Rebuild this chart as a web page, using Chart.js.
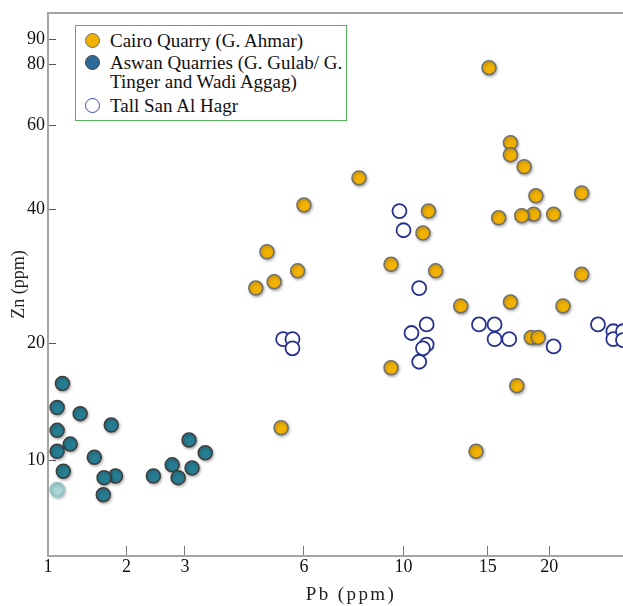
<!DOCTYPE html>
<html lang="en">
<head>
<meta charset="UTF-8">
<title>Pb vs Zn</title>
<script src="https://cdn.jsdelivr.net/npm/chart.js"></script>
<style>
    body {
        margin: 0;
        overflow: hidden;
        background: #fff;
        font-family: "Liberation Serif", serif;
    }
    #wrap {
        position: relative;
        width: 655px;
        height: 606px;
    }
    #legend {
        position: absolute;
        left: 75px;
        top: 25px;
        width: 270px;
        height: 94px;
        border: 1.5px solid #55b15c;
        background: #fff;
        font-size: 19px;
        line-height: 19px;
        color: #111;
    }
    .row {
        position: relative;
        margin: 5px 0 0 0;
        padding-left: 34px;
        white-space: pre-line;
    }
    .row:nth-child(2) {
        margin-top: 3px;
    }
    .mark {
        position: absolute;
        left: 9px;
        top: 2px;
        width: 13px;
        height: 13px;
        border-radius: 50%;
    }
</style>
</head>
<body>
<div id="wrap">
    <canvas id="chart" width="655" height="606"></canvas>
    <div id="legend"></div>
</div>

<script>
// series names (legend)
const seriesNames = [
    "Cairo Quarry (G. Ahmar)",
    "Aswan Quarries (G. Gulab/ G.\nTinger and Wadi Aggag)",
    "Tall San Al Hagr"
];

// Cairo Quarry (G. Ahmar)
const cairoPb = [15.1, 16.7, 16.7, 17.8, 8.0, 18.8, 23.2, 6.0, 11.3, 15.8, 18.6, 17.6, 20.4, 11.0, 4.9,
                 9.4, 5.8, 11.7, 23.2, 5.1, 4.6, 16.7, 13.2, 21.3, 18.4, 19.0, 9.4, 17.2, 5.3, 14.2];
const cairoZn = [78.8, 55.3, 52.2, 49.3, 46.7, 42.8, 43.4, 40.9, 39.7, 38.4, 39.1, 38.8, 39.1, 35.6, 32.4,
                 30.4, 29.4, 29.4, 28.9, 27.8, 26.9, 25.0, 24.5, 24.5, 20.7, 20.7, 17.5, 15.8, 12.3, 10.6];

// Aswan Quarries (last point is the pale one)
const aswanPb = [1.16, 1.10, 1.37, 1.78, 1.10, 1.25, 1.10, 1.55, 1.17, 1.84, 1.68, 1.67, 2.43, 2.76, 2.87,
                 3.08, 3.14, 3.41, 1.10];
const aswanZn = [16.0, 13.9, 13.4, 12.5, 12.1, 11.1, 10.6, 10.2, 9.3, 9.0, 8.9, 7.9, 9.0, 9.7, 8.9,
                 11.4, 9.5, 10.5, 8.2];
const aswanPale = [18];

// Tall San Al Hagr
const hagrPb = [9.8, 10.0, 10.8, 5.36, 5.64, 5.64, 11.2, 10.4, 11.2, 11.0, 10.8, 14.4, 15.5, 15.5, 16.6,
                20.4, 25.0, 26.8, 26.8, 28.0, 28.0];
const hagrZn = [39.7, 36.1, 26.9, 20.5, 20.5, 19.5, 22.2, 21.2, 19.9, 19.5, 18.1, 22.2, 22.2, 20.5, 20.5,
                19.7, 22.2, 21.4, 20.5, 21.4, 20.4];

// axis ticks
const pbTicks = [1, 2, 3, 6, 10, 15, 20];
const znTicks = [10, 20, 40, 60, 80, 90];
const pbRange = [1, 32.2];
const znRange = [4.86, 101.5];

// the axes of the figure are log(v + c) rather than plain log
const tx = v => Math.log10(v + 1.5);
const ty = v => Math.log10(v + 5);

function pts(xs, ys) {
    return xs.map((x, i) => ({ x: tx(x), y: ty(ys[i]) }));
}

const serif = "'Liberation Serif', 'Times New Roman', serif";
const markFill = ['#f2b203', '#267d91', '#ffffff'];
const legendFill = ['#f2b203', '#2f6b98', '#ffffff'];
const markLine = ['#6e6e6e', '#3d3d3d', '#28318f'];

// soft drop shadow under the filled markers
const shadowPlugin = {
    id: 'shadow',
    beforeDatasetDraw(chart, args) {
        if (args.index > 1) return;
        const c = chart.ctx;
        c.save();
        c.shadowColor = 'rgba(0,0,0,0.28)';
        c.shadowBlur = 3;
        c.shadowOffsetX = 1;
        c.shadowOffsetY = 1.5;
    },
    afterDatasetDraw(chart, args) {
        if (args.index > 1) return;
        chart.ctx.restore();
    }
};

// spaced letters for the Pb title
const spacedTitle = {
    id: 'spacedTitle',
    beforeDraw(chart) {
        const s = chart.scales.x;
        if (s._spaced) return;
        const orig = s.drawTitle;
        s.drawTitle = function () {
            this.ctx.letterSpacing = '2.4px';
            orig.apply(this, arguments);
            this.ctx.letterSpacing = '0px';
        };
        s._spaced = true;
    }
};

// keep the plot area fixed, no room reserved for overhanging labels
function noPad(s) {
    s.paddingTop = 0;
    s.paddingBottom = 0;
    s.paddingLeft = 0;
    s.paddingRight = 0;
}

const ctx = document.getElementById('chart').getContext('2d');
const chart = new Chart(ctx, {
    type: 'scatter',
    data: {
        datasets: [
            {
                label: seriesNames[0],
                data: pts(cairoPb, cairoZn),
                backgroundColor: markFill[0],
                borderColor: markLine[0],
                borderWidth: 1.5,
                pointRadius: 7,
                order: 1
            },
            {
                label: seriesNames[1],
                data: pts(aswanPb, aswanZn),
                backgroundColor: c => aswanPale.includes(c.dataIndex) ? '#a9d6d8' : markFill[1],
                borderColor: c => aswanPale.includes(c.dataIndex) ? '#93c4c7' : markLine[1],
                borderWidth: 1.5,
                pointRadius: 7,
                order: 2
            },
            {
                label: seriesNames[2],
                data: pts(hagrPb, hagrZn),
                backgroundColor: markFill[2],
                borderColor: markLine[2],
                borderWidth: 1.8,
                pointRadius: 7,
                order: 0
            }
        ]
    },
    options: {
        responsive: false,
        animation: false,
        events: [],
        layout: { autoPadding: false, padding: { left: 0, top: 13, right: 1, bottom: 0 } },
        plugins: {
            legend: { display: false },
            tooltip: { enabled: false }
        },
        scales: {
            x: {
                type: 'linear',
                position: 'bottom',
                min: tx(pbRange[0]),
                max: tx(pbRange[1]),
                afterBuildTicks: s => { s.ticks = pbTicks.map(v => ({ value: tx(v) })); },
                afterFit: s => { s.height = 50; noPad(s); },
                border: { color: '#a4a4a4', width: 2 },
                grid: { drawOnChartArea: false, tickLength: -10, tickColor: '#777', tickWidth: 1 },
                ticks: {
                    autoSkip: false,
                    maxRotation: 0,
                    padding: 10,
                    color: '#111',
                    font: { family: serif, size: 18 },
                    callback: (v, i) => pbTicks[i]
                },
                title: {
                    display: true,
                    text: 'Pb (ppm)',
                    color: '#222',
                    padding: { top: 0, bottom: 0 },
                    font: { family: serif, size: 19 }
                }
            },
            xTop: {
                type: 'linear',
                position: 'top',
                min: tx(pbRange[0]),
                max: tx(pbRange[1]),
                afterFit: s => { s.height = 0; noPad(s); },
                border: { color: '#a4a4a4', width: 2 },
                grid: { display: false, drawTicks: false },
                ticks: { display: false }
            },
            y: {
                type: 'linear',
                min: ty(znRange[0]),
                max: ty(znRange[1]),
                afterBuildTicks: s => { s.ticks = znTicks.map(v => ({ value: ty(v) })); },
                afterFit: s => { s.width = 48; noPad(s); },
                border: { color: '#a4a4a4', width: 2 },
                grid: { drawOnChartArea: false, tickLength: -8, tickColor: '#555', tickWidth: 1 },
                ticks: {
                    autoSkip: false,
                    padding: 11,
                    color: '#111',
                    font: { family: serif, size: 18 },
                    callback: (v, i) => znTicks[i]
                },
                title: {
                    display: true,
                    text: 'Zn (ppm)',
                    color: '#222',
                    padding: { top: 8, bottom: 0 },
                    font: { family: serif, size: 18 }
                }
            }
        }
    },
    plugins: [shadowPlugin, spacedTitle]
});

// legend drawn as html, built from the dataset names
const legend = document.getElementById('legend');
seriesNames.forEach((name, i) => {
    const row = document.createElement('div');
    row.className = 'row';
    const m = document.createElement('span');
    m.className = 'mark';
    m.style.background = legendFill[i];
    m.style.border = '1.5px solid ' + (i === 2 ? '#3a4aa8' : markLine[i]);
    row.appendChild(m);
    row.appendChild(document.createTextNode(name));
    legend.appendChild(row);
});
</script>
</body>
</html>
